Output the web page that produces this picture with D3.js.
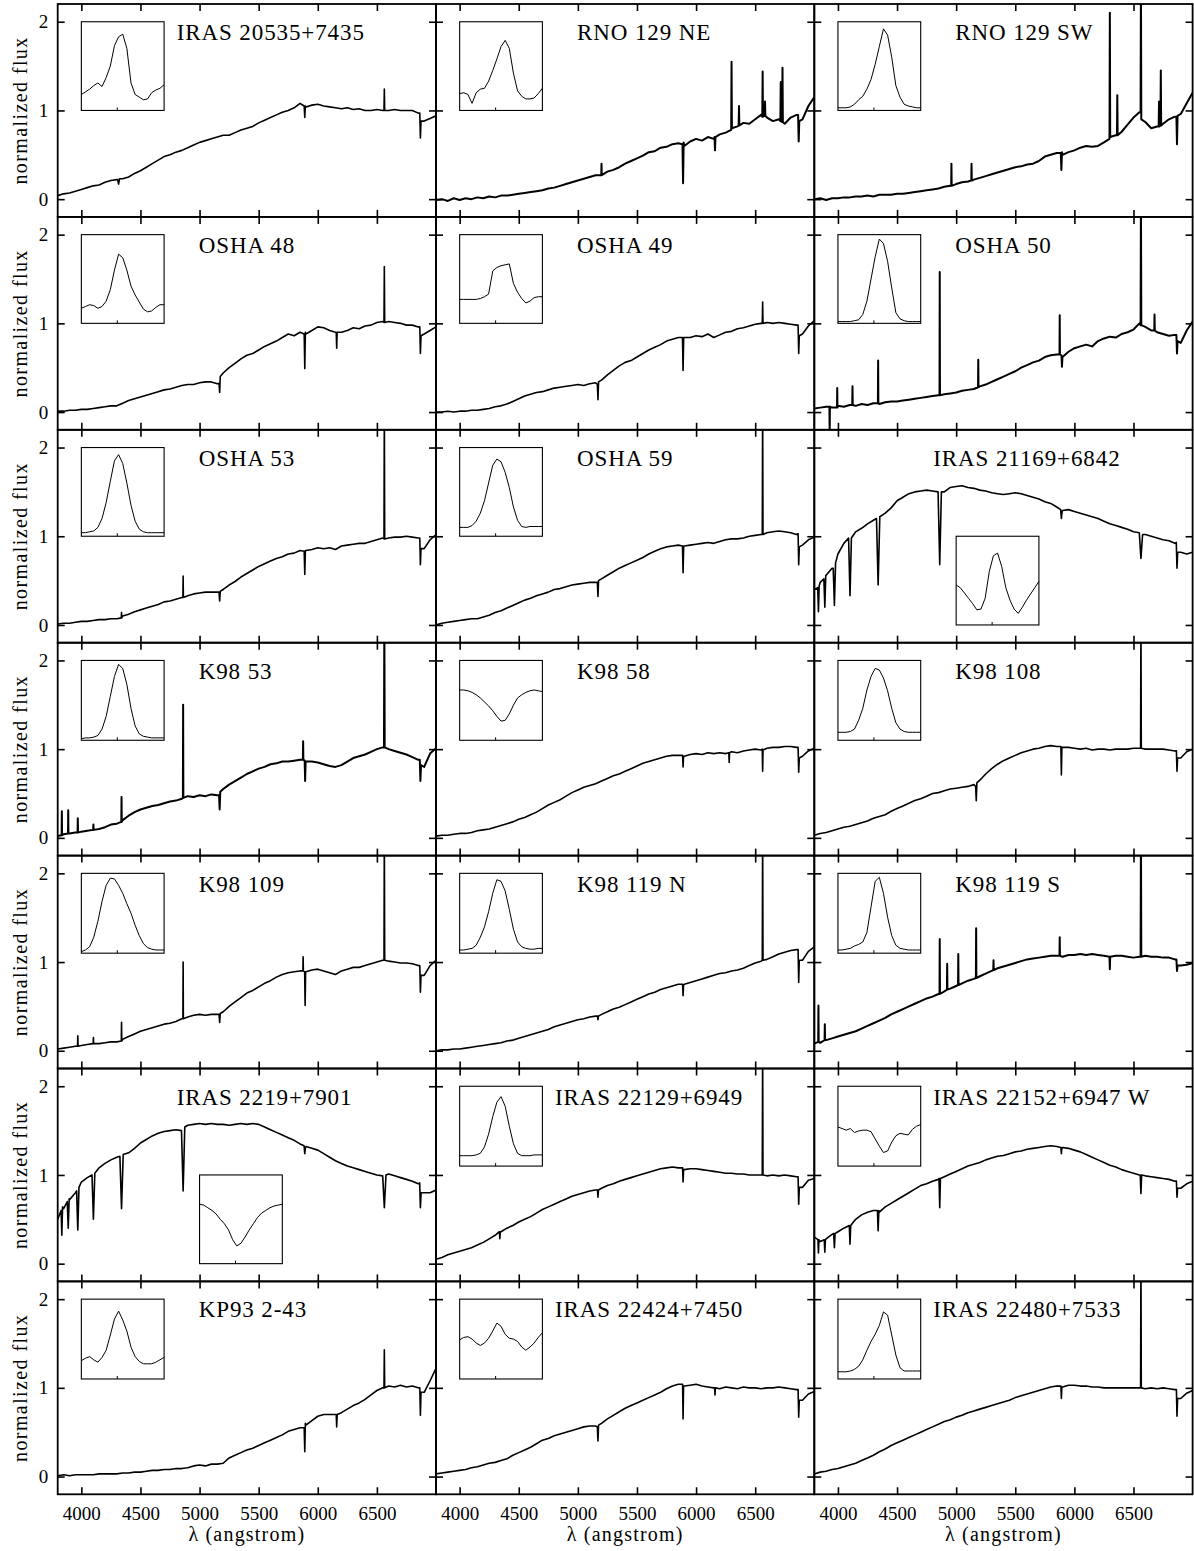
<!DOCTYPE html>
<html>
<head>
<meta charset="utf-8">
<script src="https://cdn.jsdelivr.net/npm/d3@7"></script>
<style>
  html, body { margin: 0; padding: 0; background: #fff; }
  svg { display: block; }
  text { font-family: "Liberation Serif", "Times New Roman", serif; fill: #000; }
</style>
</head>
<body>
<svg id="fig" width="1194" height="1551"></svg>
<script>
// ---------------------------------------------------------------------------
// Spectra: normalized flux sampled every 50 Å from 3800 to 7000 Å (65 values).
// Narrow features (emission / absorption lines) are listed separately as
// [centre Å, flux at left shoulder, flux at line extreme, half-width Å, flux at right shoulder].
// Inset profiles: 21 relative-flux samples across the line (velocity grid below).
// ---------------------------------------------------------------------------
const WAVE_START = 3800, WAVE_STEP = 50;
const INSET_V0 = -300, INSET_DV = 35;

const titles = [
  "IRAS 20535+7435", "RNO 129 NE", "RNO 129 SW",
  "OSHA 48", "OSHA 49", "OSHA 50",
  "OSHA 53", "OSHA 59", "IRAS 21169+6842",
  "K98 53", "K98 58", "K98 108",
  "K98 109", "K98 119 N", "K98 119 S",
  "IRAS 2219+7901", "IRAS 22129+6949", "IRAS 22152+6947 W",
  "KP93 2-43", "IRAS 22424+7450", "IRAS 22480+7533"
];

const xTickValues = [4000, 4500, 5000, 5500, 6000, 6500];
const yTickValues = [0, 1, 2];

// --- IRAS 20535+7435
const fluxIRAS20535 = [
  .04,.06,.07,.09,.11,.13,.15,.16,.19,.21,
  .22,.23,.25,.29,.32,.36,.40,.44,.48,.50,
  .53,.55,.58,.61,.64,.66,.68,.70,.72,.72,
  .75,.78,.80,.82,.86,.89,.92,.95,.98,1.00,
  1.03,1.08,1.04,1.06,1.07,1.05,1.04,1.03,1.02,1.03,
  1.01,1.02,1.00,1.00,1.01,1.00,1.00,1.01,1.00,1.00,
  1.00,.97,.88,.91,.94];
const linesIRAS20535 = [[4315,.22,.17,8,.23],[5890,1.05,.92,5,1.05],[6563,1.0,1.24,3,1.0],[6868,.97,.69,5,.88]];
const insetIRAS20535 = [.18,.21,.24,.28,.31,.27,.37,.50,.73,.83,.86,.70,.31,.18,.15,.12,.13,.20,.23,.25,.29];

// --- RNO 129 NE
const fluxRNO129NE = [
  -.01,.00,-.02,.01,-.01,.01,.00,.02,.01,.03,
  .02,.04,.04,.05,.06,.07,.08,.09,.10,.12,
  .13,.15,.17,.19,.21,.23,.25,.27,.26,.31,
  .33,.36,.40,.43,.46,.49,.53,.54,.58,.59,
  .62,.63,.60,.65,.68,.66,.70,.68,.73,.75,
  .80,.82,.86,.85,.90,.95,.92,.88,.90,.85,
  .92,.95,.90,1.05,1.15];
const linesRNO129NE = [[5200,.27,.40,2,.27],[5890,.62,.18,5,.64],[6160,.70,.55,4,.70],[6300,.78,1.55,3,.80],
  [6363,.83,1.05,3,.83],[6563,.93,1.44,3,.93],[6583,.94,1.10,3,.94],[6716,.88,1.32,3,.88],[6731,.87,1.48,3,.87],
  [6868,.95,.65,5,.88]];
const insetRNO129NE = [.19,.20,.18,.08,.20,.24,.25,.33,.45,.58,.72,.79,.70,.42,.22,.16,.13,.13,.14,.19,.25];

// --- RNO 129 SW
const fluxRNO129SW = [
  .00,.01,-.01,.01,.01,.02,.02,.03,.03,.04,
  .03,.05,.05,.05,.06,.06,.07,.08,.09,.10,
  .11,.12,.14,.15,.17,.19,.20,.22,.24,.26,
  .28,.30,.32,.34,.36,.37,.39,.40,.43,.48,
  .50,.52,.50,.53,.55,.58,.60,.59,.60,.64,
  .68,.72,.76,.84,.92,.98,.87,.80,.82,.85,
  .90,.93,.96,1.08,1.20];
const linesRNO129SW = [[4960,.15,.40,2,.15],[5130,.21,.40,2,.21],[5890,.52,.33,5,.53],[6300,.68,2.1,3,.70],
  [6363,.72,1.17,3,.72],[6563,.98,2.5,3,.90],[6716,.82,1.10,3,.82],[6731,.83,1.45,3,.83],[6868,.93,.62,5,.94]];
const insetRNO129SW = [.03,.03,.03,.04,.07,.12,.16,.24,.35,.52,.72,.92,.85,.60,.28,.15,.07,.05,.04,.03,.03];

// --- OSHA 48
const fluxOSHA48 = [
  .01,.01,.02,.02,.03,.03,.04,.05,.06,.07,
  .07,.10,.13,.15,.17,.19,.21,.23,.25,.26,
  .28,.30,.31,.31,.33,.34,.34,.32,.44,.50,
  .55,.60,.64,.66,.70,.74,.77,.80,.84,.88,
  .86,.90,.88,.92,.96,.95,.92,.90,.90,.92,
  .95,.94,.97,.98,1.01,1.02,1.02,1.01,1.00,.98,
  .98,.96,.88,.92,.96];
const linesOSHA48 = [[5170,.32,.22,5,.40],[5890,.88,.49,5,.90],[6160,.90,.72,4,.90],[6563,1.01,1.64,3,1.01],[6868,.96,.66,5,.86]];
const insetOSHA48 = [.17,.19,.21,.20,.17,.19,.25,.38,.60,.78,.74,.60,.42,.32,.24,.16,.13,.14,.18,.21,.21];

// --- OSHA 49
const fluxOSHA49 = [
  .00,.00,.01,.00,.01,.01,.02,.02,.03,.04,
  .06,.07,.09,.12,.15,.18,.20,.22,.23,.25,
  .27,.28,.29,.30,.31,.30,.32,.33,.36,.42,
  .47,.52,.56,.58,.62,.66,.70,.73,.76,.80,
  .82,.84,.84,.84,.86,.85,.88,.84,.87,.90,
  .91,.94,.95,.97,.99,1.00,1.01,1.00,1.01,1.00,
  .99,.98,.88,.97,1.03];
const linesOSHA49 = [[5170,.31,.14,5,.34],[5890,.84,.47,5,.84],[6563,1.0,1.24,3,1.0],[6868,.98,.66,5,.86]];
const insetOSHA49 = [.27,.27,.27,.27,.27,.28,.30,.33,.59,.63,.65,.66,.67,.45,.35,.28,.23,.25,.29,.30,.30];

// --- OSHA 50
const fluxOSHA50 = [
  .04,.05,.06,.05,.07,.06,.08,.07,.09,.08,
  .10,.09,.11,.12,.12,.13,.14,.15,.16,.17,
  .18,.19,.20,.21,.22,.24,.25,.26,.29,.31,
  .34,.37,.40,.43,.46,.50,.53,.56,.58,.62,
  .64,.65,.62,.68,.72,.74,.76,.74,.80,.83,
  .85,.84,.88,.90,.93,1.00,.96,.92,.90,.88,
  .86,.87,.78,.92,1.02];
const linesOSHA50 = [[3930,.06,-.25,2,.06],[3994,.05,.27,2,.05],[4123,.08,.29,2,.08],[4340,.10,.58,2,.10],
  [4861,.19,1.58,2,.19],[5187,.28,.59,2,.28],[5876,.65,1.09,2,.65],[5895,.64,.51,4,.62],[6563,.98,2.5,3,.98],
  [6678,.92,1.10,2,.92],[6868,.87,.66,5,.80]];
const insetOSHA50 = [.02,.02,.02,.02,.03,.04,.10,.25,.50,.75,.95,.90,.70,.40,.12,.05,.03,.02,.02,.02,.02];

// --- OSHA 53
const fluxOSHA53 = [
  .01,.02,.02,.03,.04,.04,.05,.06,.06,.07,
  .07,.10,.12,.15,.17,.19,.21,.23,.26,.27,
  .29,.31,.33,.35,.36,.37,.37,.37,.40,.45,
  .49,.54,.58,.62,.66,.69,.72,.75,.77,.80,
  .81,.84,.84,.85,.87,.86,.87,.85,.89,.90,
  .91,.92,.92,.94,.96,.98,.98,.99,.99,1.00,
  .99,.98,.86,.96,1.02];
const linesOSHA53 = [[4340,.08,.14,2,.08],[4861,.31,.55,2,.31],[5170,.37,.27,5,.38],[5890,.83,.57,5,.84],
  [6563,.97,2.5,3,.97],[6868,.98,.68,5,.86]];
const insetOSHA53 = [.04,.04,.05,.06,.10,.20,.38,.62,.85,.92,.82,.60,.35,.17,.08,.05,.04,.04,.04,.04,.04];

// --- OSHA 59
const fluxOSHA59 = [
  .00,.02,.03,.04,.05,.06,.07,.07,.09,.11,
  .14,.16,.19,.22,.25,.28,.30,.33,.35,.37,
  .40,.41,.43,.45,.46,.47,.48,.48,.52,.56,
  .60,.64,.67,.70,.73,.76,.80,.83,.86,.88,
  .89,.90,.89,.90,.91,.92,.93,.92,.94,.96,
  .97,.97,.98,1.00,1.01,1.02,1.04,1.05,1.06,1.05,
  1.04,1.02,.90,.96,.99];
const linesOSHA59 = [[5170,.48,.32,5,.50],[5890,.89,.59,5,.89],[6563,1.02,2.5,3,1.02],[6868,1.03,.68,5,.88]];
const insetOSHA59 = [.10,.10,.10,.12,.17,.26,.40,.60,.80,.87,.84,.72,.55,.33,.18,.11,.10,.11,.11,.11,.11];

// --- IRAS 21169+6842
const fluxIRAS21169 = [
  .40,.48,.56,.64,.80,.92,.98,1.05,1.09,1.14,
  1.18,1.22,1.26,1.32,1.40,1.44,1.48,1.50,1.51,1.52,
  1.51,1.49,1.50,1.55,1.56,1.57,1.55,1.54,1.52,1.51,
  1.49,1.48,1.47,1.48,1.49,1.48,1.46,1.44,1.42,1.39,
  1.37,1.33,1.29,1.30,1.28,1.26,1.24,1.22,1.20,1.17,
  1.14,1.12,1.10,1.08,1.05,1.02,1.02,1.00,.98,.96,
  .95,.92,.82,.80,.82];
const linesIRAS21169 = [[3835,.42,.15,6,.44],[3889,.52,.20,8,.56],[3970,.64,.22,10,.70],[4102,.98,.33,12,.98],
  [4340,1.20,.45,14,1.22],[4861,1.50,.68,14,1.50],[5890,1.30,1.20,6,1.28],[6563,1.04,.75,14,1.02],[6868,.93,.64,6,.82]];
const insetIRAS21169 = [.45,.42,.36,.30,.24,.17,.18,.30,.60,.78,.81,.66,.42,.28,.18,.13,.20,.28,.35,.42,.49];

// --- K98 53
const fluxK98_53 = [
  .02,.04,.05,.06,.07,.08,.09,.10,.12,.15,
  .16,.20,.25,.29,.32,.34,.36,.37,.39,.41,
  .42,.44,.47,.46,.48,.47,.49,.48,.55,.60,
  .64,.68,.72,.75,.78,.80,.83,.84,.86,.86,
  .87,.88,.86,.86,.85,.83,.81,.80,.82,.86,
  .90,.92,.94,.97,1.00,1.02,1.00,.98,.96,.94,
  .91,.88,.80,.95,1.01];
const linesK98_53 = [[3835,.03,.30,2,.03],[3889,.05,.31,2,.05],[3970,.06,.22,2,.06],[4102,.09,.15,2,.09],
  [4340,.18,.46,2,.18],[4861,.45,1.5,2,.45],[5170,.48,.32,5,.52],[5876,.88,1.09,2,.88],[5893,.87,.64,4,.85],
  [6563,1.02,2.5,3,1.02],[6868,.88,.64,5,.82]];
const insetK98_53 = [.02,.03,.03,.04,.06,.14,.30,.55,.80,.95,.90,.70,.40,.18,.08,.05,.04,.03,.03,.03,.03];

// --- K98 58
const fluxK98_58 = [
  .02,.03,.03,.04,.05,.05,.06,.08,.09,.10,
  .12,.14,.16,.18,.21,.23,.26,.29,.33,.37,
  .40,.43,.47,.51,.54,.57,.59,.61,.64,.67,
  .70,.72,.75,.78,.81,.84,.86,.88,.90,.92,
  .93,.93,.92,.94,.95,.94,.96,.95,.96,.95,
  .97,.96,.98,.99,1.00,.99,1.01,1.02,1.02,1.03,
  1.03,1.02,.92,.98,1.01];
const linesK98_58 = [[5890,.93,.80,4,.92],[6280,.96,.85,3,.96],[6563,1.0,.75,3,.99],[6868,1.02,.74,5,.90]];
const insetK98_58 = [.63,.63,.62,.60,.57,.53,.48,.43,.37,.30,.24,.25,.33,.44,.53,.57,.60,.62,.63,.62,.61];

// --- K98 108
const fluxK98_108 = [
  .03,.05,.06,.08,.10,.12,.13,.15,.17,.19,
  .22,.24,.26,.30,.33,.36,.39,.42,.44,.47,
  .50,.51,.53,.55,.56,.57,.58,.60,.65,.72,
  .78,.83,.87,.90,.93,.96,.98,1.00,1.01,1.03,
  1.04,1.03,1.02,1.02,1.01,1.00,1.01,.99,1.00,1.00,
  .99,1.00,1.00,1.00,1.01,1.01,1.00,1.00,1.00,1.00,
  .99,.98,.90,.97,1.00];
const linesK98_108 = [[5170,.58,.42,5,.62],[5890,1.03,.71,4,1.02],[6563,1.01,2.5,3,1.01],[6868,.98,.75,5,.90]];
const insetK98_108 = [.10,.10,.10,.11,.14,.25,.40,.63,.80,.90,.88,.78,.62,.40,.22,.14,.11,.10,.10,.10,.10];

// --- K98 109
const fluxK98_109 = [
  .02,.03,.04,.05,.06,.07,.08,.08,.09,.10,
  .10,.13,.16,.19,.22,.24,.26,.28,.30,.31,
  .33,.36,.38,.40,.41,.40,.41,.41,.44,.50,
  .55,.60,.65,.68,.72,.76,.79,.83,.86,.88,
  .89,.90,.89,.91,.92,.90,.88,.86,.90,.92,
  .94,.94,.96,.98,1.00,1.02,1.01,1.00,.99,.99,
  .98,.96,.85,.96,1.02];
const linesK98_109 = [[3970,.05,.17,2,.05],[4102,.08,.15,2,.08],[4340,.11,.32,2,.11],[4861,.36,1.0,2,.36],
  [5170,.41,.32,5,.42],[5876,.90,1.06,2,.90],[5893,.89,.51,4,.89],[6563,1.02,2.5,3,1.02],[6868,.96,.66,5,.85]];
const insetK98_109 = [.02,.04,.08,.20,.40,.65,.85,.94,.93,.85,.75,.62,.50,.35,.22,.12,.07,.05,.04,.04,.04];

// --- K98 119 N
const fluxK98_119N = [
  .00,.01,.01,.02,.02,.03,.04,.05,.06,.07,
  .08,.09,.11,.12,.14,.16,.18,.20,.22,.24,
  .27,.29,.31,.33,.35,.36,.38,.39,.41,.44,
  .47,.49,.52,.55,.58,.61,.64,.66,.69,.71,
  .73,.75,.75,.77,.79,.81,.83,.85,.87,.88,
  .90,.91,.93,.96,.99,1.01,1.03,1.06,1.09,1.11,
  1.13,1.14,1.02,1.12,1.17];
const linesK98_119N = [[5170,.39,.35,4,.39],[5890,.75,.62,4,.74],[6563,1.02,2.5,3,1.02],[6868,1.14,.77,5,1.02]];
const insetK98_119N = [.04,.04,.05,.06,.10,.20,.33,.52,.75,.92,.90,.78,.55,.30,.14,.08,.06,.05,.05,.06,.06];

// --- K98 119 S
const fluxK98_119S = [
  .08,.09,.12,.14,.16,.18,.20,.22,.25,.28,
  .31,.34,.37,.41,.44,.47,.50,.53,.56,.59,
  .61,.64,.67,.70,.73,.76,.79,.81,.84,.87,
  .90,.93,.95,.97,.99,1.01,1.03,1.04,1.05,1.06,
  1.07,1.07,1.06,1.08,1.08,1.09,1.08,1.09,1.08,1.07,
  1.06,1.07,1.07,1.06,1.05,1.06,1.07,1.06,1.06,1.05,
  1.05,1.03,.96,.97,.99];
const linesK98_119S = [[3835,.10,.51,2,.10],[3889,.12,.30,2,.12],[4861,.64,1.26,2,.64],[4924,.69,.98,2,.69],
  [5018,.74,1.09,2,.74],[5169,.82,1.38,2,.82],[5316,.91,1.02,2,.91],[5876,1.07,1.28,2,1.07],[6300,1.06,.92,3,1.06],
  [6563,1.06,2.5,3,1.06],[6868,1.03,.90,5,.96]];
const insetK98_119S = [.04,.04,.05,.06,.09,.11,.14,.26,.58,.90,.95,.75,.45,.22,.10,.06,.05,.04,.04,.04,.04];

// --- IRAS 2219+7901
const fluxIRAS2219 = [
  .50,.62,.72,.80,.92,.97,1.00,1.08,1.13,1.17,
  1.20,1.22,1.25,1.30,1.36,1.40,1.44,1.47,1.49,1.50,
  1.51,1.50,1.56,1.57,1.58,1.57,1.58,1.57,1.57,1.56,
  1.57,1.58,1.57,1.58,1.57,1.54,1.51,1.48,1.45,1.42,
  1.39,1.35,1.32,1.30,1.28,1.24,1.20,1.16,1.13,1.10,
  1.08,1.06,1.04,1.02,1.00,.98,1.01,.99,.97,.95,
  .93,.90,.80,.80,.83];
const linesIRAS2219 = [[3835,.60,.32,6,.64],[3889,.70,.40,8,.73],[3970,.82,.38,10,.86],[4102,1.0,.50,12,1.02],
  [4340,1.21,.62,14,1.23],[4861,1.50,.82,14,1.54],[5890,1.33,1.24,6,1.31],[6563,.99,.63,14,1.0],[6868,.91,.63,6,.80]];
const insetIRAS2219 = [.67,.66,.63,.60,.56,.50,.45,.38,.27,.20,.23,.30,.38,.45,.52,.57,.60,.63,.65,.66,.67];

// --- IRAS 22129+6949
const fluxIRAS22129 = [
  .05,.07,.10,.12,.14,.16,.18,.21,.24,.28,
  .32,.36,.40,.43,.47,.50,.53,.57,.61,.64,
  .67,.70,.73,.76,.78,.80,.82,.83,.85,.88,
  .90,.93,.95,.97,.99,1.01,1.03,1.05,1.07,1.08,
  1.09,1.08,1.06,1.07,1.07,1.06,1.05,1.04,1.03,1.02,
  1.02,1.01,1.01,1.00,1.00,1.00,.99,1.00,.99,1.00,
  .99,.98,.86,.94,.96];
const linesIRAS22129 = [[4340,.36,.28,4,.36],[5170,.83,.75,4,.83],[5890,1.08,.92,4,1.06],[6563,1.0,2.5,3,1.0],[6868,.98,.67,5,.86]];
const insetIRAS22129 = [.13,.13,.13,.13,.14,.16,.24,.40,.62,.80,.87,.75,.50,.28,.16,.13,.13,.13,.14,.14,.14];

// --- IRAS 22152+6947 W
const fluxIRAS22152 = [
  .30,.25,.28,.33,.36,.40,.43,.50,.55,.58,
  .60,.58,.64,.68,.72,.76,.80,.84,.88,.90,
  .93,.95,.98,1.01,1.04,1.07,1.10,1.12,1.14,1.17,
  1.19,1.21,1.22,1.24,1.26,1.27,1.29,1.30,1.31,1.32,
  1.33,1.32,1.31,1.30,1.28,1.26,1.23,1.20,1.17,1.14,
  1.11,1.09,1.06,1.04,1.02,1.00,.99,.98,.97,.96,
  .95,.93,.85,.90,.93];
const linesIRAS22152 = [[3835,.27,.12,4,.27],[3889,.27,.13,5,.27],[3970,.34,.18,6,.34],[4102,.43,.22,6,.43],
  [4340,.60,.37,6,.60],[4861,.96,.63,6,.96],[5890,1.31,1.24,4,1.31],[6563,1.0,.79,6,1.0],[6868,.93,.75,5,.85]];
const insetIRAS22152 = [.49,.47,.45,.47,.42,.44,.45,.45,.43,.34,.25,.17,.19,.30,.38,.41,.40,.39,.46,.50,.52];

// --- KP93 2-43
const fluxKP93 = [
  .01,.02,.01,.02,.02,.02,.02,.03,.03,.03,
  .03,.04,.04,.05,.05,.06,.07,.07,.08,.08,
  .09,.09,.10,.12,.13,.12,.14,.14,.15,.21,
  .24,.27,.30,.32,.35,.38,.41,.44,.47,.51,
  .53,.55,.58,.63,.68,.70,.70,.70,.72,.76,
  .80,.83,.87,.92,.97,1.00,1.02,1.01,1.03,1.01,
  1.02,1.00,.95,1.08,1.22];
const linesKP93 = [[5890,.55,.28,5,.60],[6160,.70,.56,4,.70],[6563,1.0,1.43,3,1.0],[6868,1.0,.69,5,.95]];
const insetKP93 = [.23,.26,.28,.24,.21,.27,.36,.55,.75,.85,.74,.60,.40,.28,.22,.19,.19,.19,.21,.24,.27];

// --- IRAS 22424+7450
const fluxIRAS22424 = [
  .03,.04,.05,.06,.07,.08,.10,.11,.13,.15,
  .16,.18,.20,.24,.27,.30,.33,.37,.41,.43,
  .46,.48,.50,.52,.54,.56,.57,.57,.60,.65,
  .69,.73,.77,.80,.83,.86,.89,.92,.95,.99,
  1.02,1.04,1.02,1.03,1.04,1.02,1.01,1.00,.99,1.01,
  1.00,.99,1.01,1.00,1.00,.99,1.00,1.00,1.01,1.00,
  .99,.98,.86,.93,.96];
const linesIRAS22424 = [[5170,.56,.40,5,.58],[5890,1.04,.65,4,1.02],[6160,1.0,.92,3,1.0],[6868,.98,.67,5,.86]];
const insetIRAS22424 = [.49,.52,.53,.50,.45,.42,.45,.51,.60,.70,.66,.56,.51,.50,.47,.40,.36,.40,.45,.52,.58];

// --- IRAS 22480+7533
const fluxIRAS22480 = [
  .03,.05,.06,.08,.09,.11,.13,.15,.18,.21,
  .24,.28,.31,.35,.38,.41,.44,.47,.50,.53,
  .56,.59,.62,.64,.67,.69,.72,.74,.76,.78,
  .80,.82,.84,.86,.89,.91,.93,.95,.97,.99,
  1.01,1.02,1.01,1.03,1.03,1.02,1.02,1.01,1.01,1.00,
  1.00,1.00,1.00,1.00,1.00,1.00,.99,1.00,.99,1.00,
  .99,.98,.88,.94,.97];
const linesIRAS22480 = [[5890,1.02,.88,4,1.01],[6563,1.0,2.5,3,1.0],[6868,.98,.68,5,.88]];
const insetIRAS22480 = [.09,.09,.09,.10,.12,.16,.24,.36,.47,.56,.67,.84,.80,.55,.30,.14,.10,.10,.10,.10,.10];

const fluxes = [
  fluxIRAS20535, fluxRNO129NE, fluxRNO129SW,
  fluxOSHA48, fluxOSHA49, fluxOSHA50,
  fluxOSHA53, fluxOSHA59, fluxIRAS21169,
  fluxK98_53, fluxK98_58, fluxK98_108,
  fluxK98_109, fluxK98_119N, fluxK98_119S,
  fluxIRAS2219, fluxIRAS22129, fluxIRAS22152,
  fluxKP93, fluxIRAS22424, fluxIRAS22480];
const lineLists = [
  linesIRAS20535, linesRNO129NE, linesRNO129SW,
  linesOSHA48, linesOSHA49, linesOSHA50,
  linesOSHA53, linesOSHA59, linesIRAS21169,
  linesK98_53, linesK98_58, linesK98_108,
  linesK98_109, linesK98_119N, linesK98_119S,
  linesIRAS2219, linesIRAS22129, linesIRAS22152,
  linesKP93, linesIRAS22424, linesIRAS22480];
const insets = [
  insetIRAS20535, insetRNO129NE, insetRNO129SW,
  insetOSHA48, insetOSHA49, insetOSHA50,
  insetOSHA53, insetOSHA59, insetIRAS21169,
  insetK98_53, insetK98_58, insetK98_108,
  insetK98_109, insetK98_119N, insetK98_119S,
  insetIRAS2219, insetIRAS22129, insetIRAS22152,
  insetKP93, insetIRAS22424, insetIRAS22480];

// ---------------------------------------------------------------------------
// Layout and styling
// ---------------------------------------------------------------------------
const ROWS = 7, COLS = 3;
const plotLeft = 57.7, plotTop = 4, colW = 378.3, rowH = 212.9;
const FONT_TICK = 19, FONT_TITLE = 23, FONT_LABEL = 20;
// heavier strokes for the noisier, low signal-to-noise spectra
const noisyPanels = new Set(["RNO 129 NE", "RNO 129 SW", "OSHA 50", "K98 53", "K98 119 S"]);

const svg = d3.select("#fig");
svg.append("rect").attr("width", 1194).attr("height", 1551).attr("fill", "#fff");

const xScale = d3.scaleLinear().domain([3800, 7000]).range([0, colW]);
const yScale = d3.scaleLinear().domain([-0.2, 2.2]).range([rowH, 0]);

// Panel clip (same local box for every panel group)
svg.append("defs").append("clipPath").attr("id", "panel-clip")
  .append("rect").attr("x", 0).attr("y", 0).attr("width", colW).attr("height", rowH);

// Inset placement in data units: [λ from, λ to, flux bottom, flux top]
function insetBox(i, row) {
  const title = titles[i];
  if (title === "IRAS 21169+6842" || title === "IRAS 2219+7901") return [5000, 5700, 0.0, 1.0];
  return row < 3 ? [4000, 4700, 1.0, 2.0] : [4000, 4700, 1.1, 2.0];
}

function spectrumPoints(flux, lines) {
  const pts = [];
  flux.forEach((v, k) => {
    const w = WAVE_START + k * WAVE_STEP;
    const inside = lines.some(l => w >= l[0] - l[3] && w <= l[0] + l[3]);
    if (!inside) pts.push([w, v]);
  });
  lines.forEach(([c, b, e, hw, br]) => {
    pts.push([c - hw, b], [c, e], [c + hw, br === undefined ? b : br]);
  });
  pts.sort((a, b) => a[0] - b[0]);
  return pts;
}

const spectrumLine = d3.line().x(d => xScale(d[0])).y(d => yScale(d[1]));

function styleAxis(g) {
  g.select(".domain").remove();
  g.selectAll(".tick line").attr("stroke", "#000").attr("stroke-width", 1.6);
  g.selectAll(".tick text").attr("font-size", FONT_TICK)
    .attr("font-family", "Liberation Serif, Times New Roman, serif").attr("fill", "#000");
}

titles.forEach((title, i) => {
  const row = Math.floor(i / COLS), col = i % COLS;
  const g = svg.append("g")
    .attr("transform", `translate(${plotLeft + col * colW},${plotTop + row * rowH})`);

  // spectrum
  g.append("path")
    .datum(spectrumPoints(fluxes[i], lineLists[i]))
    .attr("clip-path", "url(#panel-clip)")
    .attr("fill", "none")
    .attr("stroke", "#000")
    .attr("stroke-width", noisyPanels.has(title) ? 2.0 : 1.6)
    .attr("stroke-linejoin", "round")
    .attr("d", spectrumLine);

  // axes with inward ticks on all four sides
  g.append("g").attr("transform", `translate(0,${rowH})`)
    .call(d3.axisBottom(xScale).tickValues(xTickValues).tickSizeInner(-7).tickSizeOuter(0).tickPadding(12.5)
      .tickFormat(row === ROWS - 1 ? d3.format("d") : () => ""))
    .call(styleAxis);
  g.append("g")
    .call(d3.axisTop(xScale).tickValues(xTickValues).tickSizeInner(-7).tickSizeOuter(0).tickFormat(() => ""))
    .call(styleAxis);
  g.append("g")
    .call(d3.axisLeft(yScale).tickValues(yTickValues).tickSizeInner(-7).tickSizeOuter(0).tickPadding(9.4)
      .tickFormat(col === 0 ? d3.format("d") : () => ""))
    .call(styleAxis);
  g.append("g").attr("transform", `translate(${colW},0)`)
    .call(d3.axisRight(yScale).tickValues(yTickValues).tickSizeInner(-7).tickSizeOuter(0).tickFormat(() => ""))
    .call(styleAxis);

  // frame
  g.append("rect").attr("width", colW).attr("height", rowH)
    .attr("fill", "none").attr("stroke", "#000").attr("stroke-width", 1.8);

  // title
  const long = title.startsWith("IRAS");
  g.append("text")
    .attr("x", long ? 119 : 141)
    .attr("y", 36)
    .attr("font-size", FONT_TITLE)
    .attr("letter-spacing", 0.9)
    .text(title);

  // inset line profile
  const [l0, l1, f0, f1] = insetBox(i, row);
  const prof = insets[i];
  const vx = d3.scaleLinear().domain([INSET_V0, INSET_V0 + INSET_DV * (prof.length - 1)]).range([xScale(l0), xScale(l1)]);
  const vy = d3.scaleLinear().domain([0, 1]).range([yScale(f0), yScale(f1)]);
  const ig = g.append("g");
  ig.append("rect")
    .attr("x", xScale(l0)).attr("y", yScale(f1))
    .attr("width", xScale(l1) - xScale(l0)).attr("height", yScale(f0) - yScale(f1))
    .attr("fill", "#fff").attr("stroke", "#000").attr("stroke-width", 1.1);
  ig.append("path")
    .datum(prof.map((v, k) => [INSET_V0 + INSET_DV * k, v]))
    .attr("fill", "none").attr("stroke", "#000").attr("stroke-width", 1)
    .attr("d", d3.line().x(d => vx(d[0])).y(d => vy(d[1])));
  ig.append("g").attr("transform", `translate(0,${yScale(f0)})`)
    .call(d3.axisBottom(vx).tickValues([0]).tickSizeInner(-3).tickSizeOuter(0).tickFormat(() => ""))
    .call(g2 => { g2.select(".domain").remove(); g2.selectAll(".tick line").attr("stroke", "#000"); });
});

// row labels
for (let r = 0; r < ROWS; r++) {
  svg.append("text")
    .attr("transform", `translate(26.5,${plotTop + r * rowH + rowH / 2}) rotate(-90)`)
    .attr("text-anchor", "middle")
    .attr("font-size", FONT_LABEL)
    .attr("letter-spacing", 1.4)
    .text("normalized flux");
}
// column labels
for (let c = 0; c < COLS; c++) {
  svg.append("text")
    .attr("x", plotLeft + c * colW + colW / 2)
    .attr("y", plotTop + ROWS * rowH + 47)
    .attr("text-anchor", "middle")
    .attr("font-size", FONT_LABEL)
    .attr("letter-spacing", 1.2)
    .text("λ (angstrom)");
}
</script>
</body>
</html>
